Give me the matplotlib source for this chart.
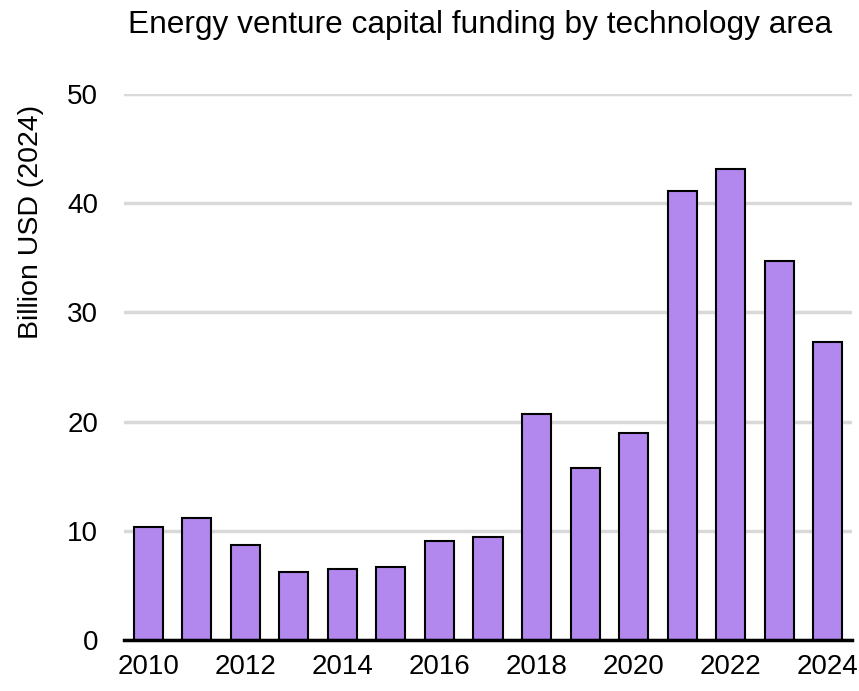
import matplotlib
matplotlib.use("Agg")
import matplotlib.pyplot as plt

years = list(range(2010, 2025))
values = [10.35, 11.2, 8.7, 6.2, 6.5, 6.7, 9.1, 9.4, 20.7, 15.75, 18.95, 41.1, 43.1, 34.7, 27.3]
xtick_years = [2010, 2012, 2014, 2016, 2018, 2020, 2022, 2024]
yticks = [0, 10, 20, 30, 40, 50]

plt.rcParams['font.family'] = ['Liberation Sans', 'DejaVu Sans']

fig = plt.figure(figsize=(8.59, 6.91), dpi=100)
ax = fig.add_axes([124/859, 1-640/691, (852-124)/859, (640-94)/691])

ax.bar(years, values, width=0.6, color='#B388EE', edgecolor='black', linewidth=1.5, zorder=3)

ax.set_xlim(2009.5, 2024.5)
ax.set_ylim(0, 50)
ax.set_yticks(yticks)
ax.set_xticks(xtick_years)
ax.set_xticklabels([str(y) for y in xtick_years])
ax.tick_params(axis='both', length=0, labelsize=20, colors='black')
ax.tick_params(axis='y', pad=18.5)
ax.tick_params(axis='x', pad=10)

ax.grid(axis='y', color='#d9d9d9', linewidth=2.5, zorder=0)
ax.set_axisbelow(True)
for s in ['top', 'right', 'left']:
    ax.spines[s].set_visible(False)
ax.spines['bottom'].set_linewidth(2.5)
ax.spines['bottom'].set_color('black')
ax.spines['bottom'].set_zorder(4)

ax.set_ylabel('Billion USD (2024)', fontsize=20.5)
ax.yaxis.set_label_coords((44-124)/728, (640-222)/546)
fig.text(480/859, 1-25/691, 'Energy venture capital funding by technology area',
         ha='center', va='center', fontsize=22.8)

fig.savefig('out.png', dpi=100)
